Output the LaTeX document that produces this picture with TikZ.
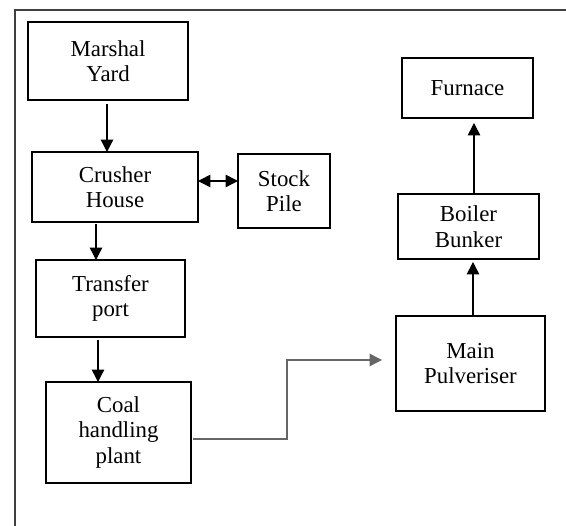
\documentclass[tikz,border=0pt]{standalone}
\usepackage{fontspec}
\setmainfont{Liberation Serif}
\usetikzlibrary{arrows.meta}

\tikzset{
    blk/.style={draw, line width=0.9pt, inner sep=0pt, outer sep=0pt, align=center,
        font=\fontsize{13}{14.5}\selectfont},
    flow/.style={line width=0.8pt, -{Triangle[length=7pt,width=7pt]}}
}

\begin{document}
\begin{tikzpicture}[x=0.02cm, y=-0.02cm]
            \useasboundingbox (0,0) rectangle (566,526);
            \draw[line width=1pt, black!75] (566,10) -| (15,526);

            \begin{scope}[every node/.style={blk}]

                \node[minimum width=3.2cm, minimum height=1.56cm] (marshal) at (108,61) {Marshal\\Yard};
                \node[minimum width=3.32cm, minimum height=1.4cm] (crusher) at (115,187) {Crusher\\House};
                \node[minimum width=1.84cm, minimum height=1.48cm] (stock) at (284,191) {Stock\\Pile};
                \node[minimum width=2.98cm, minimum height=1.54cm] (transfer) at (110.5,298.5) {Transfer\\port};
                \node[minimum width=2.9cm, minimum height=2.02cm] (coal) at (118.5,432.5) {Coal\\handling\\plant};
                \node[minimum width=2.98cm, minimum height=1.9cm] (main) at (470.5,363.5) {Main\\Pulveriser};
                \node[minimum width=2.82cm, minimum height=1.3cm] (boiler) at (468.5,226.5) {Boiler\\Bunker};
                \node[minimum width=2.62cm, minimum height=1.2cm] (furnace) at (467.5,88) {Furnace};

            \end{scope}
            \coordinate (bend) at (287,360);

            \draw[flow] ([xshift=-0.02cm,yshift=-0.08cm]marshal.south) -- ([xshift=-0.02cm]marshal.south |- crusher.north);
            \draw[flow] ([xshift=-0.38cm,yshift=-0.04cm]crusher.south) -- ([xshift=-0.38cm]crusher.south |- transfer.north);
            \draw[flow] ([xshift=-0.25cm,yshift=-0.06cm]transfer.south) -- ([xshift=-0.25cm]transfer.south |- coal.north);
            \draw[flow, {Triangle[length=7pt,width=7pt]}-{Triangle[length=7pt,width=7pt]}] ([yshift=0.12cm]crusher.east) -- ([yshift=0.12cm]crusher.east -| stock.west);
            \draw[flow, black!60] ([xshift=0.04cm,yshift=-0.13cm]coal.east) -| (bend) -- ([xshift=-0.28cm]bend -| main.west);
            \draw[flow] ([xshift=0.05cm]main.north) -- ([xshift=0.05cm,yshift=-0.06cm]main.north |- boiler.south);
            \draw[flow] ([xshift=0.11cm]boiler.north) -- ([xshift=0.11cm,yshift=-0.1cm]boiler.north |- furnace.south);
        \end{tikzpicture}
\end{document}
